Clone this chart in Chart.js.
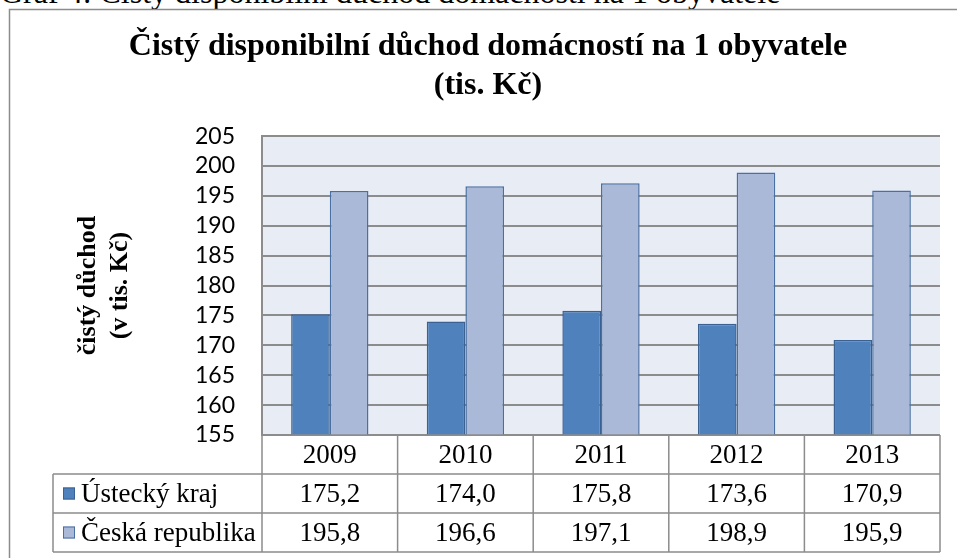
<!DOCTYPE html>
<html>
<head>
<meta charset="utf-8">
<script src="https://cdn.jsdelivr.net/npm/chart.js@4/dist/chart.umd.min.js"></script>
<style>
  html, body { margin: 0; padding: 0; background: #fff; overflow: hidden; }
  #caption {
    position: absolute; left: 0; top: -24px;
    font: 32px 'Liberation Serif', 'Times New Roman', serif;
    line-height: 32px; white-space: nowrap; color: #000;
  }
  #chart { position: absolute; left: 0; top: 0; }
</style>
</head>
<body>
<div id="caption">Graf 4: Čistý disponibilní důchod domácností na 1 obyvatele</div>
<canvas id="chart" width="957" height="558"></canvas>
<script>
// data
const years = ['2009', '2010', '2011', '2012', '2013'];
const seriesNames = ['Ústecký kraj', 'Česká republika'];
const usteckyKraj = [175.2, 174.0, 175.8, 173.6, 170.9];
const ceskaRepublika = [195.8, 196.6, 197.1, 198.9, 195.9];
const yMin = 155, yMax = 205, yStep = 5;

const fillColors = ['#4F81BD', '#AAB9D8'];
const edgeColors = ['#3A6192', '#4A6FA2'];
const lineGray = '#8c8c8c';
const serif = "'Liberation Serif', 'Times New Roman', serif";

const fmt = v => v.toFixed(1).replace('.', ',');

// light blue fill behind the plot
const plotBackground = {
  id: 'plotBackground',
  beforeDraw(chart) {
    const { ctx, chartArea: a } = chart;
    ctx.save();
    ctx.fillStyle = '#E8ECF4';
    ctx.fillRect(a.left, a.top, a.right - a.left, a.bottom - a.top);
    ctx.restore();
  }
};

// data table under the plot + outer frame
const dataTable = {
  id: 'dataTable',
  afterDraw(chart) {
    const { ctx, chartArea: a } = chart;
    const xs = chart.scales.x;
    const colW = (a.right - a.left) / years.length;
    const rowH = 39;
    const top = a.bottom;
    const legendLeft = 53;
    const rows = [usteckyKraj, ceskaRepublika];
    const bottom = top + rowH * 3;

    ctx.save();
    ctx.strokeStyle = lineGray;
    ctx.lineWidth = 1.5;

    // outer frame
    ctx.strokeRect(9.5, 9.5, 980, 600);

    ctx.beginPath();
    ctx.moveTo(a.left, top);
    ctx.lineTo(a.right, top);
    for (let r = 1; r <= 3; r++) {
      ctx.moveTo(legendLeft, top + r * rowH);
      ctx.lineTo(a.right, top + r * rowH);
    }
    for (let i = 0; i <= years.length; i++) {
      const x = a.left + i * colW;
      ctx.moveTo(x, top);
      ctx.lineTo(x, bottom);
    }
    ctx.moveTo(legendLeft, top + rowH);
    ctx.lineTo(legendLeft, bottom);
    ctx.stroke();

    ctx.fillStyle = '#000';
    ctx.font = '27px ' + serif;
    ctx.textBaseline = 'middle';
    ctx.textAlign = 'center';
    years.forEach((y, i) => {
      const cx = xs.getPixelForValue(i);
      ctx.fillText(y, cx, top + rowH / 2 + 1);
      rows.forEach((vals, r) => {
        ctx.fillText(fmt(vals[i]), cx, top + rowH * (r + 1) + rowH / 2 + 1);
      });
    });

    ctx.textAlign = 'left';
    seriesNames.forEach((name, r) => {
      const cy = top + rowH * (r + 1) + rowH / 2;
      ctx.fillStyle = fillColors[r];
      ctx.fillRect(63, cy - 6, 12, 12);
      ctx.strokeStyle = edgeColors[r];
      ctx.lineWidth = 1;
      ctx.strokeRect(63.5, cy - 5.5, 11, 11);
      ctx.fillStyle = '#000';
      ctx.fillText(name, 81, cy + 1);
    });
    ctx.restore();
  }
};

new Chart(document.getElementById('chart'), {
  type: 'bar',
  data: {
    labels: years,
    datasets: [
      {
        label: seriesNames[0],
        data: usteckyKraj,
        backgroundColor: fillColors[0],
        borderColor: edgeColors[0],
        borderWidth: 1.5
      },
      {
        label: seriesNames[1],
        data: ceskaRepublika,
        backgroundColor: fillColors[1],
        borderColor: edgeColors[1],
        borderWidth: 1.5
      }
    ]
  },
  options: {
    responsive: false,
    animation: false,
    devicePixelRatio: 1,
    categoryPercentage: 0.57,
    barPercentage: 1,
    layout: { padding: { top: 10, left: 36, right: 17, bottom: 123 } },
    plugins: {
      legend: { display: false },
      tooltip: { enabled: false },
      title: {
        display: true,
        text: ['Čistý disponibilní důchod domácností na 1 obyvatele', '(tis. Kč)'],
        color: '#000',
        font: { family: serif, size: 32, weight: 'bold', lineHeight: 1.22 },
        padding: { top: 17.5, bottom: 30.5 }
      }
    },
    scales: {
      x: { display: false },
      y: {
        min: yMin,
        max: yMax,
        afterFit(scale) { scale.width = 226; },
        ticks: {
          stepSize: yStep,
          autoSkip: false,
          color: '#000',
          padding: 27,
          font: { family: "Lato, 'Open Sans', sans-serif", size: 23 }
        },
        grid: { color: lineGray, lineWidth: 2, drawTicks: false },
        border: { display: true, color: lineGray, width: 2 },
        title: {
          display: true,
          text: ['čistý důchod', '(v tis. Kč)'],
          color: '#000',
          font: { family: serif, size: 26, weight: 'bold', lineHeight: 1.2 },
          padding: { top: 37, bottom: 0 }
        }
      }
    }
  },
  plugins: [plotBackground, dataTable]
});
</script>
</body>
</html>
